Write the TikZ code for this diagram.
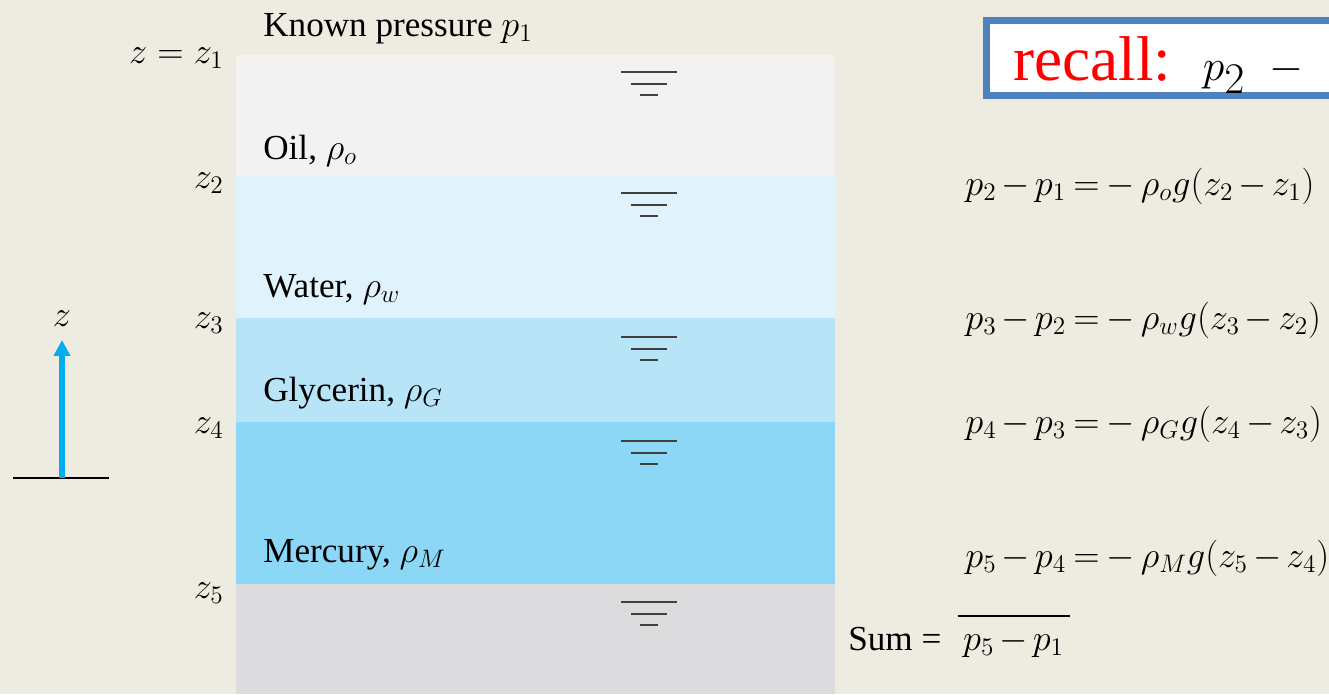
\documentclass[tikz,border=0pt]{standalone}
\usepackage{fontspec}
\setmainfont{Liberation Serif}
\usetikzlibrary{arrows.meta,positioning}
\definecolor{bgbeige}{RGB}{238,235,224}
\definecolor{oilgray}{RGB}{242,242,242}
\definecolor{waterblue}{RGB}{224,242,252}
\definecolor{glyblue}{RGB}{184,228,248}
\definecolor{hgblue}{RGB}{140,214,246}
\definecolor{basegray}{RGB}{220,220,222}
\definecolor{axiscyan}{RGB}{0,174,239}
\definecolor{boxblue}{RGB}{79,129,189}
\newcommand\tighteqmath{\medmuskip=2.5mu\relax\thickmuskip=3.5mu\relax}

\begin{document}
\begin{tikzpicture}[x=0.02cm, y=-0.02cm,
  lbl/.style={anchor=base west, inner sep=0pt, font=\fontsize{20}{24}\selectfont},
  zlbl/.style={anchor=base east, inner sep=0pt, font=\fontsize{20}{24}\selectfont},
  eqn/.style={anchor=base west, inner sep=0pt,
    font=\fontsize{21}{25}\selectfont\tighteqmath},
  fsurf/.pic={\draw[line width=1.4pt, black!75]
    (-28,0) -- (28,0) (-18,12) -- (18,12) (-9,23) -- (9,23);}]
\useasboundingbox (0,0) rectangle (1329,694);
\fill[bgbeige] (0,0) rectangle (1329,694);

% fluid layers
\fill[oilgray]   (236,55)  rectangle (835,176);
\fill[waterblue] (236,176) rectangle (835,318);
\fill[glyblue]   (236,318) rectangle (835,422);
\fill[hgblue]    (236,422) rectangle (835,584);
\fill[basegray]  (236,584) rectangle (835,694);

\foreach \y in {72,193,337,441,602}
  \pic at (649,\y) {fsurf};

% layer labels
\node[lbl] (known) at (263,36)  {Known pressure $p_1$};
\node[lbl] (oil)   at (263,159) {Oil, $\rho_o$};
\node[lbl] (water) at (263,297) {Water, $\rho_w$};
\node[lbl] (gly)   at (263,401) {Glycerin, $\rho_G$};
\node[lbl] (hg)    at (263,562) {Mercury, $\rho_M$};

% heights
\node[zlbl] (z1) at (224,63)  {$z = z_1$};
\node[zlbl] (z2) at (224,188) {$z_2$};
\node[zlbl] (z3) at (224,328) {$z_3$};
\node[zlbl] (z4) at (224,433) {$z_4$};
\node[zlbl] (z5) at (224,598) {$z_5$};

% z axis
\coordinate (gnd) at (62,478);
\coordinate (gndl) at (13,478);
\coordinate (gndr) at (109,478);
\coordinate (ztip) at (62,340);
\node[lbl, anchor=base] (zaxis) at (62,326) {$z$};
\draw[line width=0.9pt] (gndl) -- (gndr);
\draw[axiscyan, line width=3.4pt, -{Triangle[length=9pt, width=9pt]}] (gnd) -- (ztip);

% equations
\node[eqn] (eq1) at (965,195) {$p_2-p_1=-\,\rho_o g(z_2-z_1)$};
\node[eqn] (eq2) at (965,329) {$p_3-p_2=-\,\rho_w g(z_3-z_2)$};
\node[eqn] (eq3) at (965,433) {$p_4-p_3=-\,\rho_G g(z_4-z_3)$};
\node[eqn] (eq4) at (965,567) {$p_5-p_4=-\,\rho_M g(z_5-z_4)$};
\node[lbl] (sum) at (848,650) {Sum =};
\node[eqn, right=12pt of sum.base east, anchor=base west] (sumeq) {$p_5-p_1$};
\draw[line width=0.9pt] ([xshift=-3pt,yshift=7pt]sumeq.north west) -- ([xshift=3pt,yshift=7pt]sumeq.north east);

% recall box
\node[draw=boxblue, line width=4pt, fill=white, anchor=north west,
      minimum width=11cm, minimum height=1.5cm, inner sep=0pt] (recallbox) at (983,17) {};
\node[anchor=base west, inner sep=0pt, font=\fontsize{36}{40}\selectfont] (recall) at (1013,80)
  {\textcolor{red}{recall:}\enspace$p_2\mskip10mu{-}$};
\end{tikzpicture}
\end{document}
